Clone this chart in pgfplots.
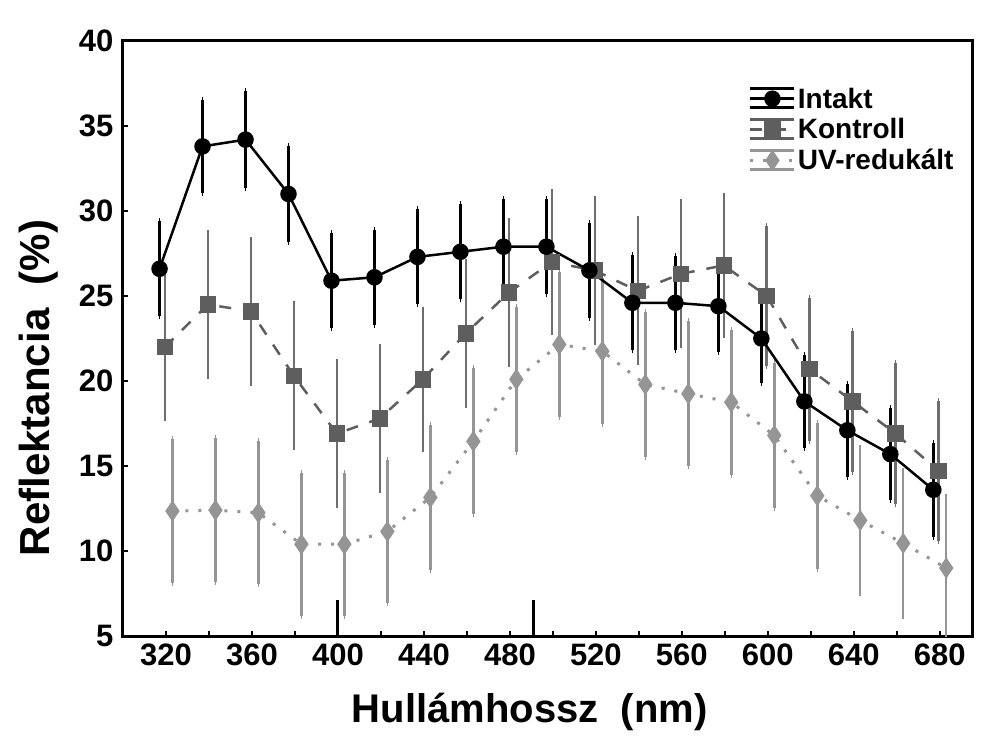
\documentclass[border=0pt]{standalone}
\usepackage{pgfplots}
\pgfplotsset{compat=1.18}
\usepackage{pgfplotstable}
\usepackage{fontspec}
\setmainfont{Liberation Sans}
\definecolor{kontr}{HTML}{5E5E5E}
\definecolor{kontrbar}{HTML}{6E6E6E}
\definecolor{uvc}{HTML}{959595}

\pgfplotstableread{
x y e
317 26.6 2.8
337 33.8 2.75
357 34.2 2.85
377 31.0 2.8
397 25.9 2.8
417 26.1 2.8
437 27.3 2.8
457 27.6 2.8
477 27.9 2.8
497 27.9 2.8
517 26.5 2.8
537 24.6 2.8
557 24.6 2.75
577 24.4 2.7
597 22.5 2.6
617 18.8 2.75
637 17.1 2.75
657 15.7 2.7
677 13.6 2.75
}\intakt

\pgfplotstableread{
x y e
319.5 22.0 4.2
339.5 24.5 4.2
359.5 24.1 4.2
379.5 20.3 4.2
399.5 16.9 4.2
419.5 17.8 4.2
439.5 20.1 4.1
459.5 22.8 4.2
479.5 25.2 4.2
499.5 27.0 4.1
519.5 26.5 4.2
539.5 25.3 4.2
559.5 26.3 4.2
579.5 26.8 4.1
599.5 25.0 4.1
619.5 20.7 4.2
639.5 18.8 4.15
659.5 16.9 4.15
679.5 14.7 4.1
}\kontroll

\pgfplotstableread{
x y e
323 12.35 4.25
343 12.4 4.25
363 12.25 4.2
383 10.4 4.2
403 10.4 4.2
423 11.15 4.2
443 13.15 4.25
463 16.45 4.3
483 20.1 4.25
503 22.15 4.25
523 21.75 4.3
543 19.8 4.25
563 19.25 4.25
583 18.75 4.25
603 16.8 4.25
623 13.25 4.3
643 11.8 4.25
663 10.45 4.25
683 9.0 4.2
}\uvred

\begin{document}
\begin{tikzpicture}
\path[use as bounding box] (-123pt,-111pt) rectangle (867pt,636pt);
\begin{axis}[
  scale only axis,
  width=849pt, height=595pt,
  xmin=300, xmax=695,
  ymin=5, ymax=40,
  axis line style={line width=3pt},
  xtick={320,360,...,680},
  minor xtick={340,380,...,660},
  ytick={5,10,...,40},
  tick align=inside,
  major tick length=5pt,
  minor tick length=5pt,
  every tick/.style={line width=2pt, black},
  xtick pos=bottom, ytick pos=left,
  /pgf/number format/assume math mode=true,
  /pgf/number format/1000 sep={},
  ticklabel style={font=\bfseries\fontsize{31}{31}\selectfont},
  xticklabel style={yshift=-4pt},
  yticklabel style={xshift=-6pt},
  xlabel={Hullámhossz\ \ (nm)},
  xlabel style={font=\bfseries\fontsize{40}{40}\selectfont, at={(axis description cs:0.479,-0.128)}, anchor=center},
  legend style={draw=none, fill=none, at={(axis description cs:0.737,0.925)}, anchor=north west,
    font=\bfseries\fontsize{28}{28}\selectfont, row sep=5pt, inner sep=0pt},
  legend cell align=left,
  reverse legend,
  legend image code/.code={
    \draw[#1, solid, mark=none, line width=2.5pt] (0pt,10pt) -- (44pt,10pt);
    \draw[#1, solid, mark=none, line width=2.5pt] (0pt,-9pt) -- (44pt,-9pt);
    \draw[mark repeat=2, mark phase=2, #1] plot coordinates {(0pt,0pt) (22pt,0pt) (44pt,0pt)};
  },
]
% tall marks at 400 and 491 nm
\addplot[black, line width=3pt, forget plot] coordinates {(400,5) (400,7.1)};
\addplot[black, line width=3pt, forget plot] coordinates {(491,5) (491,7.1)};

\addplot[uvc, line width=3pt, dash pattern=on 3pt off 10pt, mark=diamond*, mark size=8pt,
  mark options={solid, fill=uvc, draw=uvc, xscale=0.9},
  error bars/.cd, y dir=both, y explicit,
  error bar style={line width=2.5pt, uvc, solid},
  error mark options={line width=1.5pt, mark size=3pt, uvc, solid}]
  table[x=x, y=y, y error=e] {\uvred};

\addplot[kontr, line width=2.5pt, dash pattern=on 12pt off 12pt, mark=square*, mark size=7pt,
  mark options={solid, fill=kontr, draw=kontr},
  error bars/.cd, y dir=both, y explicit,
  error bar style={line width=2.5pt, kontrbar, solid},
  error mark options={line width=1.5pt, mark size=3pt, kontrbar, solid}]
  table[x=x, y=y, y error=e] {\kontroll};

\addplot[black, line width=2.5pt, solid, mark=*, mark size=7pt,
  mark options={fill=black},
  error bars/.cd, y dir=both, y explicit,
  error bar style={line width=3pt, black, solid},
  error mark options={line width=1.5pt, mark size=3pt, black, solid}]
  table[x=x, y=y, y error=e] {\intakt};

\legend{UV-redukált, Kontroll, Intakt}
\end{axis}
\node[rotate=90, anchor=center, font=\bfseries\fontsize{42}{42}\selectfont]
  at (-84pt,248pt) {Reflektancia\ \ (\%)};
\end{tikzpicture}
\end{document}
